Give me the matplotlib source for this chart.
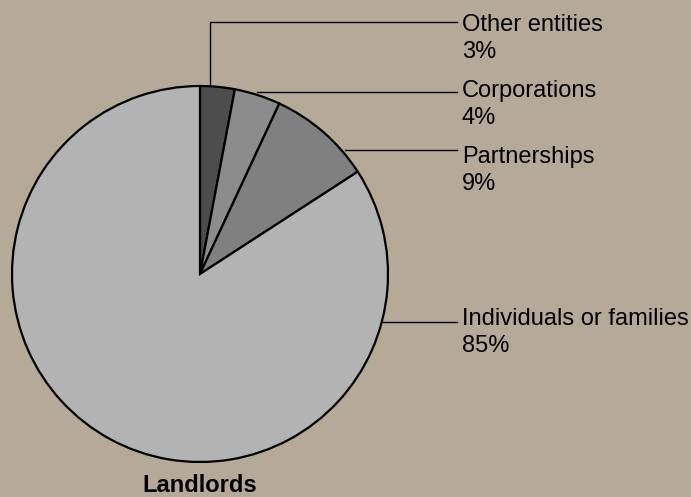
import matplotlib

matplotlib.use("Agg")
import matplotlib.pyplot as plt
import numpy as np

# landlord ownership shares (percent)
categories = ["Other entities", "Corporations", "Partnerships", "Individuals or families"]
shares = [3, 4, 9, 85]
wedge_colors = ["#4d4d4d", "#8c8c8c", "#808080", "#b3b3b3"]

BG = "#b4aa97"
W, H = 691, 497


def py(y):
    # canvas is laid out top-down in pixels
    return H - y


def main() -> None:
    plt.rcParams["font.family"] = ["Liberation Sans", "DejaVu Sans"]
    fig = plt.figure(figsize=(W / 100, H / 100), dpi=100, facecolor=BG)
    ax = fig.add_axes([0, 0, 1, 1])
    ax.set_facecolor(BG)

    cx, cy, r = 200, 274, 188
    ax.pie(
        shares,
        colors=wedge_colors,
        startangle=90,
        counterclock=False,
        center=(cx, py(cy)),
        radius=r,
        wedgeprops=dict(edgecolor="black", linewidth=1.6),
    )
    ax.set_xlim(0, W)
    ax.set_ylim(0, H)
    ax.set_aspect("equal")
    ax.axis("off")

    # leader lines: (start x, line y, label baseline)
    text_x = 462
    line_end = 457
    fs = 17.0
    leaders = [
        (210, 22, 31),
        (257, 92, 97),
        (345, 150, 163),
        (383, 322, 325),
    ]
    for (x0, ly, base), name, val in zip(leaders, categories, shares):
        if name == "Other entities":
            top = cy - np.sqrt(r**2 - (x0 - cx) ** 2)
            ax.plot([x0, x0, line_end], [py(top), py(ly), py(ly)], color="black", lw=1.0)
        else:
            ax.plot([x0, line_end], [py(ly), py(ly)], color="black", lw=1.0)
        ax.text(text_x, py(base), name, fontsize=fs, va="baseline", ha="left")
        ax.text(text_x, py(base + 27), f"{val}%", fontsize=fs, va="baseline", ha="left")

    ax.text(cx, py(492), "Landlords", fontsize=fs, fontweight="bold", ha="center", va="baseline")

    fig.savefig("out.png", dpi=100, facecolor=BG)
    plt.close(fig)


if __name__ == "__main__":
    main()
